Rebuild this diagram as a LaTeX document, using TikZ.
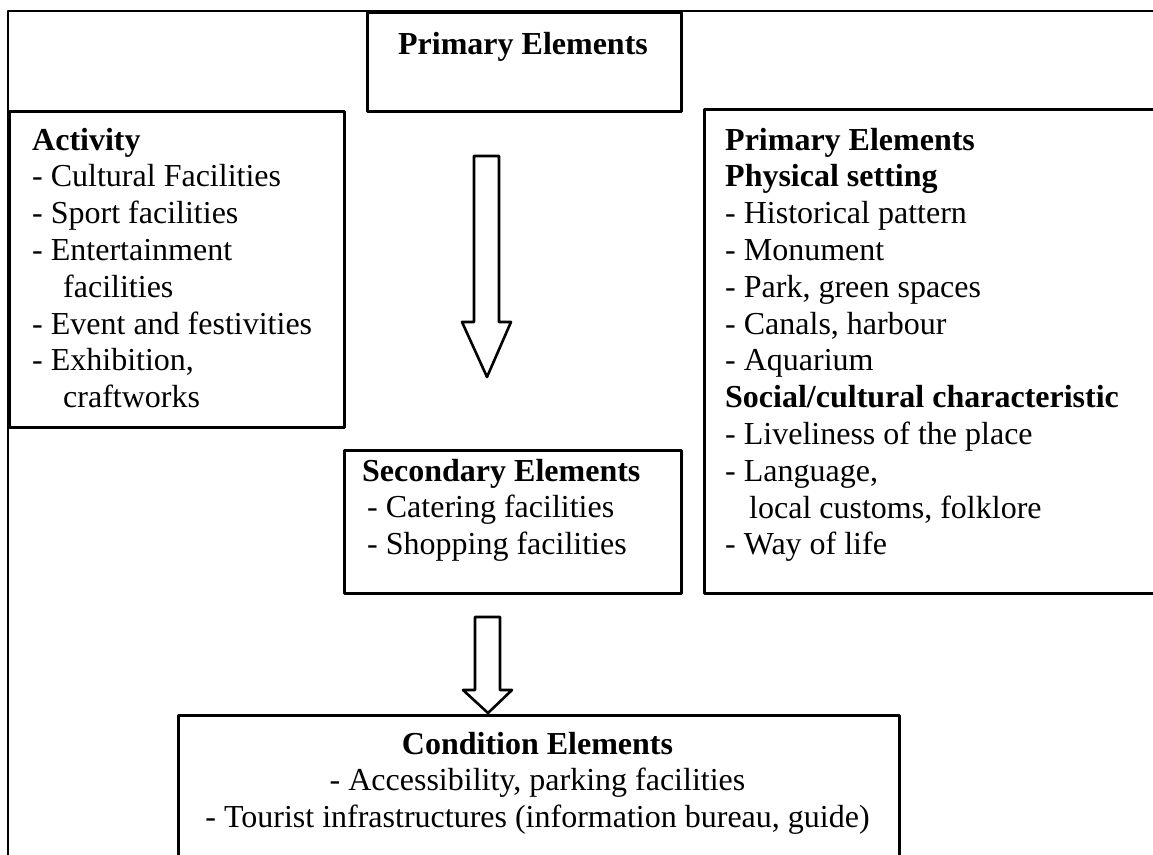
\documentclass[tikz,border=0pt]{standalone}
\usepackage{fontspec}
\setmainfont{Liberation Serif}
\begin{document}
\begin{tikzpicture}[x=1bp,y=-1bp,
  frame/.style={draw=black, line width=2.6bp, line join=round},
  boxnode/.style={frame, inner sep=0pt, anchor=north west},
  txt/.style={inner sep=0pt, align=left, anchor=base west, font=\fontsize{32bp}{36.8bp}\selectfont},
  ctxt/.style={txt, align=center, anchor=base},
  blockarrow/.style={draw=black, line width=2.6bp, line join=round, fill=white}]
\useasboundingbox[fill=white] (0,0) rectangle (1153,855);

% outer frame (right and bottom sides lie outside the picture)
\draw[frame] (8,880) -- (8,11) -- (1180,11);

% boxes
\node[boxnode, minimum width=314bp, minimum height=99bp] (topbox) at (366,11) {};
\node[boxnode, minimum width=335bp, minimum height=316bp] (actbox) at (8,110) {};
\node[boxnode, minimum width=480bp, minimum height=484bp] (rightbox) at (703,108) {};
\node[boxnode, minimum width=337bp, minimum height=143bp] (secbox) at (343,449) {};
\node[boxnode, minimum width=721bp, minimum height=170bp] (condbox) at (177,714) {};

% texts (multi-line nodes are placed by the baseline of their last line)
\node[ctxt] (toptxt) at (523,54) {\textbf{Primary Elements}};
\node[txt] (acttxt) at (32,407.6) {\textbf{Activity}\\- Cultural Facilities\\- Sport facilities\\- Entertainment\\\hspace*{31bp}facilities\\- Event and festivities\\- Exhibition,\\\hspace*{31bp}craftworks};
\node[txt] (righttxt) at (725,554.8) {\textbf{Primary Elements}\\\textbf{Physical setting}\\- Historical pattern\\- Monument\\- Park, green spaces\\- Canals, harbour\\- Aquarium\\\textbf{Social/cultural characteristic}\\- Liveliness of the place\\- Language,\\\hspace*{24bp}local customs, folklore\\- Way of life};
\node[txt] (sectxt) at (362,554.6) {\textbf{Secondary Elements}\\\hspace*{5bp}- Catering facilities\\\hspace*{5bp}- Shopping facilities};
\node[ctxt] (condtxt) at (537.5,827.6) {\textbf{Condition Elements}\\- Accessibility, parking facilities\\- Tourist infrastructures (information bureau, guide)};

% block arrows
\draw[blockarrow] (474,156) -- (499,156) -- (499,322) -- (511,322) -- (487,377) -- (462,322) -- (474,322) -- cycle;
\draw[blockarrow] (475,617) -- (500,617) -- (500,690) -- (512,690) -- (488,713) -- (463,690) -- (475,690) -- cycle;
\end{tikzpicture}
\end{document}
